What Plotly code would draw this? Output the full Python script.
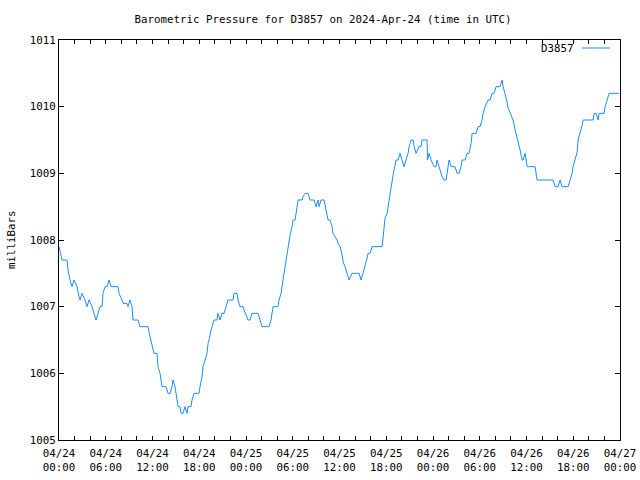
import plotly.graph_objects as go

# Time in hours since 2024-04-24 00:00 UTC, pressure in milliBars
hours = [
    0.0, 0.39, 1.03, 1.16, 1.41, 1.67, 1.93, 2.31, 2.57, 2.70, 2.95, 3.34, 3.59, 3.85, 4.24, 4.49,
    4.75, 5.01, 5.26, 5.52, 5.65, 5.91, 6.16, 6.42, 6.68, 7.57, 7.70, 8.09, 8.22, 8.73, 8.86, 9.11,
    9.37, 9.50, 10.14, 10.40, 11.42, 11.68, 11.94, 12.20, 12.58, 12.71, 12.97, 13.22, 13.74, 13.99,
    14.25, 14.51, 14.63, 14.89, 15.02, 15.15, 15.28, 15.53, 15.66, 15.92, 16.17, 16.43, 16.56, 16.94,
    17.07, 17.33, 17.97, 18.10, 18.36, 18.49, 18.74, 19.00, 19.13, 19.26, 19.51, 19.77, 19.90, 20.28,
    20.41, 20.67, 20.92, 21.18, 21.44, 21.69, 22.34, 22.46, 22.85, 22.98, 23.23, 23.62, 23.75, 24.13,
    24.26, 24.52, 24.78, 25.55, 25.80, 26.06, 26.96, 27.21, 27.47, 28.11, 28.24, 28.50, 28.75, 28.88,
    29.14, 29.40, 29.65, 29.91, 30.04, 30.30, 30.42, 30.55, 30.68, 31.19, 31.32, 31.58, 31.96, 32.22,
    32.73, 32.99, 33.25, 33.38, 33.63, 34.02, 34.27, 34.53, 34.79, 35.04, 35.17, 35.43, 35.69, 35.81,
    36.07, 36.33, 36.46, 36.71, 36.97, 37.10, 37.23, 37.61, 38.51, 38.77, 39.02, 39.28, 39.54, 39.67,
    39.92, 40.18, 41.46, 41.59, 41.72, 41.85, 42.11, 42.23, 42.36, 42.62, 42.75, 42.87, 43.00, 43.13,
    43.26, 43.52, 43.77, 44.03, 44.16, 44.29, 44.54, 44.80, 44.93, 45.19, 45.44, 45.57, 45.83, 46.09,
    46.21, 46.47, 46.60, 47.24, 47.30, 47.50, 47.75, 48.14, 48.40, 48.52, 48.78, 49.04, 49.17, 49.42,
    49.68, 49.81, 50.06, 50.32, 50.83, 51.09, 51.35, 51.60, 51.73, 52.12, 52.37, 52.63, 52.89, 53.02,
    53.53, 53.79, 54.04, 54.30, 54.43, 54.69, 54.94, 55.07, 55.33, 55.58, 55.84, 56.10, 56.61, 56.87,
    57.00, 57.25, 57.51, 57.64, 57.89, 58.15, 58.28, 58.54, 58.79, 58.92, 59.18, 59.44, 59.56, 59.82,
    60.08, 61.10, 61.36, 63.41, 63.67, 64.06, 64.31, 64.57, 65.34, 65.60, 65.85, 65.98, 66.24, 66.50,
    66.62, 66.88, 67.14, 67.27, 68.55, 68.68, 68.93, 69.19, 69.32, 69.96, 70.09, 70.35, 70.60, 71.89,
]
pressure = [
    1007.9, 1007.7, 1007.7, 1007.55, 1007.4, 1007.3, 1007.4, 1007.3, 1007.15, 1007.1, 1007.2, 1007.1, 1007.0, 1007.1, 1007.0, 1006.9,
    1006.8, 1006.9, 1007.0, 1007.0, 1007.2, 1007.3, 1007.3, 1007.4, 1007.3, 1007.3, 1007.2, 1007.1, 1007.05, 1007.05, 1007.0, 1007.1,
    1007.0, 1006.8, 1006.8, 1006.7, 1006.7, 1006.55, 1006.4, 1006.3, 1006.3, 1006.1, 1006.0, 1005.8, 1005.8, 1005.7,
    1005.7, 1005.8, 1005.9, 1005.8, 1005.7, 1005.55, 1005.5, 1005.5, 1005.4, 1005.4, 1005.5, 1005.4, 1005.5, 1005.5,
    1005.6, 1005.7, 1005.7, 1005.8, 1005.95, 1006.1, 1006.2, 1006.3, 1006.45, 1006.5, 1006.65, 1006.75, 1006.8, 1006.8,
    1006.9, 1006.8, 1006.9, 1006.9, 1007.0, 1007.1, 1007.1, 1007.2, 1007.2, 1007.1, 1007.0, 1007.0, 1006.95, 1006.85,
    1006.8, 1006.8, 1006.9, 1006.9, 1006.8, 1006.7, 1006.7, 1006.8, 1007.0, 1007.0, 1007.1, 1007.2, 1007.4, 1007.5,
    1007.7, 1007.95, 1008.07, 1008.2, 1008.3, 1008.3, 1008.4, 1008.55, 1008.6, 1008.6, 1008.65, 1008.7, 1008.7, 1008.6,
    1008.6, 1008.5, 1008.6, 1008.5, 1008.6, 1008.6, 1008.45, 1008.3, 1008.3, 1008.2, 1008.1, 1008.05, 1008.0, 1007.95,
    1007.9, 1007.78, 1007.67, 1007.6, 1007.52, 1007.45, 1007.4, 1007.5, 1007.5, 1007.4, 1007.5, 1007.6, 1007.73, 1007.8,
    1007.8, 1007.9, 1007.9, 1008.03, 1008.2, 1008.33, 1008.4, 1008.5, 1008.6, 1008.75, 1008.87, 1008.97, 1009.05, 1009.15,
    1009.2, 1009.2, 1009.3, 1009.2, 1009.15, 1009.1, 1009.2, 1009.3, 1009.4, 1009.5, 1009.5, 1009.4, 1009.3, 1009.38,
    1009.4, 1009.4, 1009.5, 1009.5, 1009.2, 1009.3, 1009.2, 1009.1, 1009.1, 1009.2, 1009.1, 1009.0, 1008.95, 1008.9,
    1008.9, 1009.0, 1009.2, 1009.1, 1009.1, 1009.0, 1009.0, 1009.1, 1009.2, 1009.2, 1009.3, 1009.3, 1009.45, 1009.6,
    1009.6, 1009.7, 1009.7, 1009.8, 1009.9, 1010.0, 1010.07, 1010.1, 1010.1, 1010.2, 1010.2, 1010.3, 1010.3, 1010.4,
    1010.3, 1010.2, 1010.07, 1009.98, 1009.9, 1009.83, 1009.8, 1009.65, 1009.53, 1009.5, 1009.35, 1009.2, 1009.2, 1009.3,
    1009.1, 1009.1, 1008.9, 1008.9, 1008.8, 1008.8, 1008.9, 1008.8, 1008.8, 1008.9, 1009.0, 1009.1, 1009.2, 1009.32,
    1009.5, 1009.6, 1009.72, 1009.8, 1009.8, 1009.9, 1009.9, 1009.8, 1009.9, 1009.9, 1010.0, 1010.1, 1010.2, 1010.2,
]

tick_hours = list(range(0, 73, 2))
major_labels = {
    0: "04/24<br>00:00", 6: "04/24<br>06:00", 12: "04/24<br>12:00", 18: "04/24<br>18:00",
    24: "04/25<br>00:00", 30: "04/25<br>06:00", 36: "04/25<br>12:00", 42: "04/25<br>18:00",
    48: "04/26<br>00:00", 54: "04/26<br>06:00", 60: "04/26<br>12:00", 66: "04/26<br>18:00",
    72: "04/27<br>00:00",
}
tick_text = [major_labels.get(h, "") for h in tick_hours]
y_ticks = [1005, 1006, 1007, 1008, 1009, 1010, 1011]
series_name = "D3857"

FONT = "DejaVu Sans Mono"
FS = 10.8
LINE_COLOR = "#1a8cff"

W, H = 640, 480
ML, MR, MT, MB = 59, 20, 40, 40
PW, PH = W - ML - MR, H - MT - MB


def px_x(page_x):
    return (page_x - ML) / PW


def px_y(page_y):
    return 1 - (page_y - MT) / PH


fig = go.Figure()
fig.add_trace(go.Scatter(
    x=hours, y=pressure, mode="lines", name=series_name, showlegend=False,
    line=dict(color=LINE_COLOR, width=1),
))

# legend key drawn gnuplot-style: text on the left, line sample on the right
fig.add_annotation(text=series_name, xref="paper", yref="paper",
                   x=px_x(576), y=px_y(49), xanchor="right", yanchor="middle",
                   showarrow=False, font=dict(family=FONT, size=FS, color="black"))
fig.add_shape(type="line", xref="paper", yref="paper",
              x0=px_x(582), x1=px_x(610), y0=px_y(48), y1=px_y(48),
              line=dict(color=LINE_COLOR, width=1))

fig.add_annotation(text="milliBars", xref="paper", yref="paper",
                   x=px_x(11), y=px_y(240), xanchor="center", yanchor="middle",
                   textangle=-90, showarrow=False,
                   font=dict(family=FONT, size=FS, color="black"))

fig.update_layout(
    width=W, height=H,
    margin=dict(l=ML, r=MR, t=MT, b=MB, autoexpand=False),
    paper_bgcolor="white", plot_bgcolor="white",
    font=dict(family=FONT, size=FS, color="black"),
    title=dict(text="Barometric Pressure for D3857 on 2024-Apr-24 (time in UTC)",
               xref="container", x=323 / W, xanchor="center",
               yref="container", y=1 - 19 / H, yanchor="middle",
               font=dict(family=FONT, size=FS, color="black")),
    showlegend=False,
)
fig.update_xaxes(
    range=[0, 72], tickmode="array", tickvals=tick_hours, ticktext=tick_text,
    ticks="inside", ticklen=4, tickcolor="black", showline=True, linecolor="black",
    linewidth=1, mirror="ticks", showgrid=False, zeroline=False, tickangle=0,
    automargin=False, ticklabelstandoff=3,
)
fig.update_yaxes(
    range=[1005, 1011], tickmode="array", tickvals=y_ticks,
    ticks="inside", ticklen=5, tickcolor="black", showline=True, linecolor="black",
    linewidth=1, mirror="ticks", showgrid=False, zeroline=False, automargin=False,
)

fig.write_html(
    "out.html",
    config={"displayModeBar": False},
    post_script="document.body.style.margin='0';document.body.style.overflow='hidden';",
)
